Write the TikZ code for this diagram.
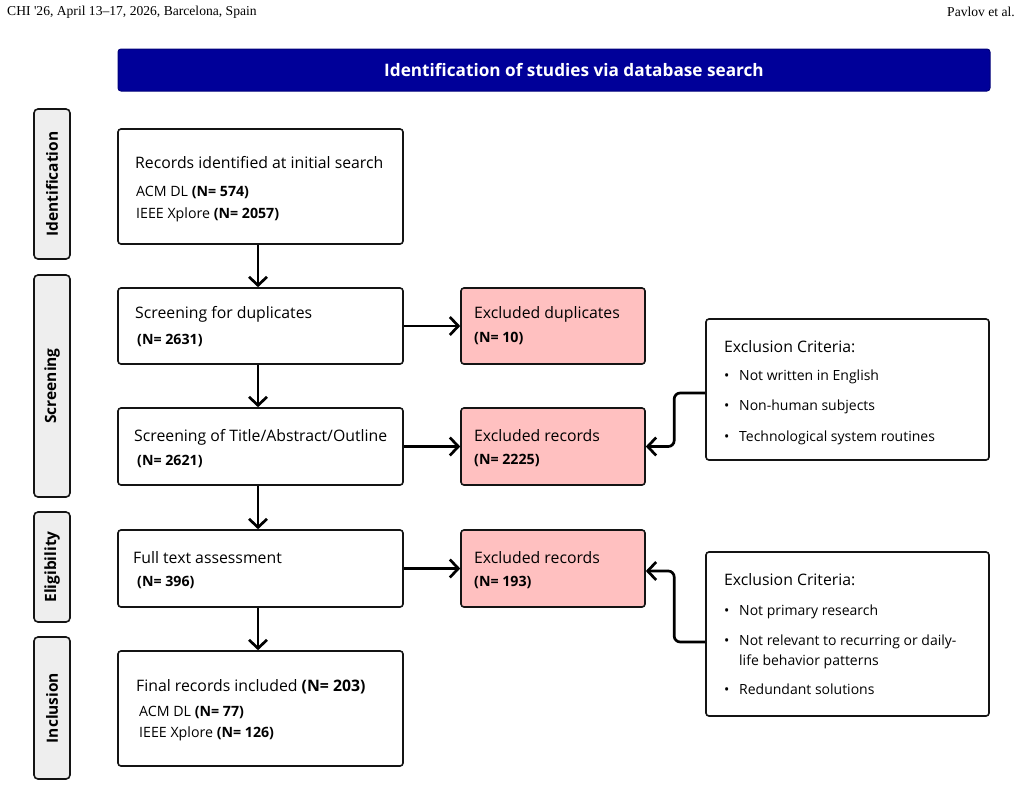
\documentclass[tikz,border=0pt]{standalone}
\usepackage{fontspec}
\setmainfont{Open Sans}
\newfontfamily\hdrfont{Liberation Serif}
\usetikzlibrary{arrows.meta}
\definecolor{bannerblue}{RGB}{0,0,153}
\definecolor{exred}{RGB}{255,192,192}
\definecolor{labgrey}{RGB}{238,238,238}
\definecolor{edge}{RGB}{20,20,20}
\begin{document}
\begin{tikzpicture}[x=1pt,y=-1pt,
  box/.style={draw=edge,line width=1.6pt,rounded corners=3pt,fill=white,inner sep=0pt},
  exbox/.style={box,fill=exred},
  lab/.style={draw=edge,line width=1.6pt,rounded corners=4pt,fill=labgrey,inner sep=0pt,minimum width=36pt},
  labtext/.style={rotate=90,font=\fontsize{15.5}{17}\selectfont\bfseries,inner sep=0pt},
  txt/.style={anchor=base west,inner sep=0pt,font=\fontsize{15.8}{18}\selectfont},
  sub/.style={anchor=base west,inner sep=0pt,font=\fontsize{14.2}{16}\selectfont},
  arr/.style={line width=2.7pt,draw=black,-{Straight Barb[length=8.5pt,width=18pt,line width=2.7pt]}},
  bul/.style={anchor=base west,inner sep=0pt,font=\fontsize{14}{16}\selectfont}
]
\path[use as bounding box] (0,0) rectangle (1021,788);
% header
\node[anchor=west,inner sep=0pt,font=\hdrfont\fontsize{13.6}{15}\selectfont] (hl) at (7,12) {CHI '26, April 13–17, 2026, Barcelona, Spain};
\node[anchor=east,inner sep=0pt,font=\hdrfont\fontsize{13.6}{15}\selectfont] (hr) at (1015,12) {Pavlov et al.};
% banner
\node[draw=bannerblue!80!black,line width=1pt,fill=bannerblue,rounded corners=3pt,minimum width=872pt,minimum height=42pt,inner sep=0pt] (banner) at (554,70) {};
\node[text=white,font=\fontsize{17.2}{19}\selectfont\bfseries,inner sep=0pt] (bannertxt) at (574,70) {Identification of studies via database search};
% side labels
\node[lab,minimum height=150pt] (lident) at (52,184) {};
\node[labtext] (tident) at (lident.center) {Identification};
\node[lab,minimum height=222pt] (lscreen) at (52,386) {};
\node[labtext] (tscreen) at (lscreen.center) {Screening};
\node[lab,minimum height=110pt] (lelig) at (52,567) {};
\node[labtext] (telig) at (lelig.center) {Eligibility};
\node[lab,minimum height=142pt] (lincl) at (52,708) {};
\node[labtext] (tincl) at (lincl.center) {Inclusion};
% main boxes
\node[box,minimum width=285pt,minimum height=115pt] (b1) at (260.5,186.5) {};
\node[txt] (b1a) at (135,168) {Records identified at initial search};
\node[sub] (b1b) at (136,196.5) {ACM DL \textbf{(N= 574)}};
\node[sub] (b1c) at (136,218) {IEEE Xplore \textbf{(N= 2057)}};

\node[box,minimum width=285pt,minimum height=76pt] (b2) at (260.5,326) {};
\node[txt] (b2a) at (135,318) {Screening for duplicates};
\node[sub] (b2b) at (137,344) {\textbf{(N= 2631)}};

\node[box,minimum width=285pt,minimum height=77pt] (b3) at (260.5,446.5) {};
\node[txt] (b3a) at (134,441) {Screening of Title/Abstract/Outline};
\node[sub] (b3b) at (137,465) {\textbf{(N= 2621)}};

\node[box,minimum width=285pt,minimum height=77pt] (b4) at (260.5,568.5) {};
\node[txt] (b4a) at (133,563) {Full text assessment};
\node[sub] (b4b) at (137,586) {\textbf{(N= 396)}};

\node[box,minimum width=285pt,minimum height=115pt] (b5) at (260.5,708.5) {};
\node[txt] (b5a) at (136,691) {Final records included \textbf{(N= 203)}};
\node[sub] (b5b) at (139,716.5) {ACM DL \textbf{(N= 77)}};
\node[sub] (b5c) at (139,737.5) {IEEE Xplore \textbf{(N= 126)}};

% excluded boxes
\node[exbox,minimum width=184pt,minimum height=76pt] (e1) at (553,326) {};
\node[txt] (e1a) at (474,318) {Excluded duplicates};
\node[sub] (e1b) at (474,342) {\textbf{(N= 10)}};

\node[exbox,minimum width=184pt,minimum height=77pt] (e2) at (553,446.5) {};
\node[txt] (e2a) at (474,441) {Excluded records};
\node[sub] (e2b) at (474,464) {\textbf{(N= 2225)}};

\node[exbox,minimum width=184pt,minimum height=77pt] (e3) at (553,568.5) {};
\node[txt] (e3a) at (474,563) {Excluded records};
\node[sub] (e3b) at (474,586) {\textbf{(N= 193)}};

% criteria boxes
\node[box,minimum width=283pt,minimum height=141pt] (c1) at (847.5,389.5) {};
\node[txt] (c1a) at (724,352) {Exclusion Criteria:};
\node[bul] (c1b) at (724,380) {\makebox[15pt][l]{\textbullet}Not written in English};
\node[bul] (c1c) at (724,410) {\makebox[15pt][l]{\textbullet}Non-human subjects};
\node[bul] (c1d) at (724,441) {\makebox[15pt][l]{\textbullet}Technological system routines};

\node[box,minimum width=283pt,minimum height=164pt] (c2) at (847.5,634) {};
\node[txt] (c2a) at (724,585) {Exclusion Criteria:};
\node[bul] (c2b) at (724,615) {\makebox[15pt][l]{\textbullet}Not primary research};
\node[bul] (c2c) at (724,645) {\makebox[15pt][l]{\textbullet}Not relevant to recurring or daily-};
\node[bul] (c2d) at (739,665) {life behavior patterns};
\node[bul] (c2e) at (724,694) {\makebox[15pt][l]{\textbullet}Redundant solutions};

% connectors
\draw[arr] ([xshift=-2.5pt]b1.south) -- ([xshift=-2.5pt]b2.north);
\draw[arr] ([xshift=-2.5pt]b2.south) -- ([xshift=-2.5pt]b3.north);
\draw[arr] ([xshift=-2.5pt]b3.south) -- ([xshift=-2.5pt]b4.north);
\draw[arr] ([xshift=-2.5pt]b4.south) -- ([xshift=-2.5pt]b5.north);
\draw[arr] (b2.east) -- (e1.west);
\draw[arr] (b3.east) -- (e2.west);
\draw[arr] (b4.east) -- (e3.west);
\draw[arr,rounded corners=6pt] ([yshift=-3.5pt]c1.west) -- ++(-31,0) |- (e2.east);
\draw[arr,rounded corners=6pt] ([yshift=-8pt]c2.west) -- ++(-31,0) |- ([yshift=-2.5pt]e3.east);
\end{tikzpicture}
\end{document}
